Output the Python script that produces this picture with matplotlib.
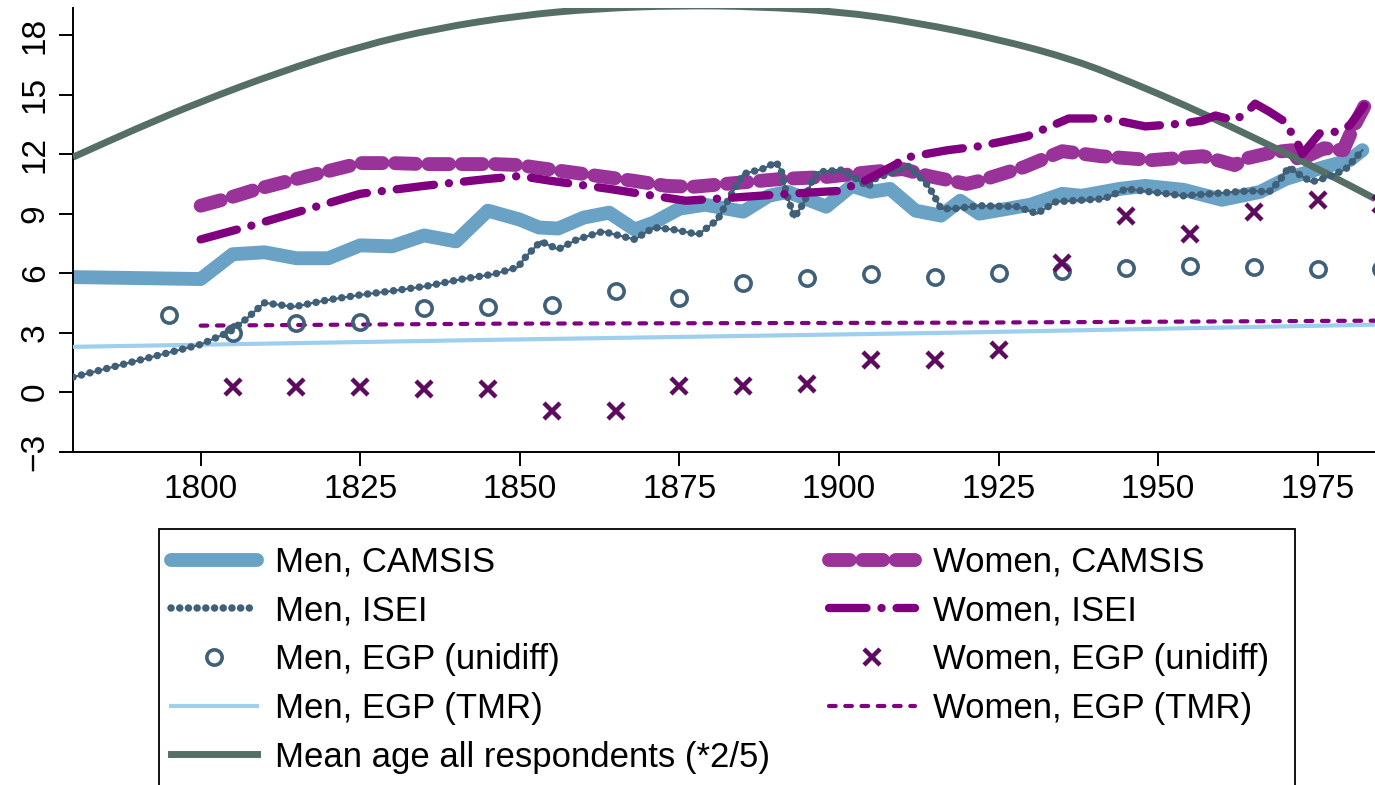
import matplotlib
matplotlib.use("Agg")
import matplotlib.pyplot as plt
from matplotlib.patches import Rectangle, PathPatch
from matplotlib.path import Path

plt.rcParams['font.family'] = ['Liberation Sans', 'DejaVu Sans']

# birth cohort / mobility values
men_camsis_year = [1780, 1800, 1805, 1810, 1815, 1820, 1825, 1830, 1835, 1840, 1845, 1850,
                   1853, 1856, 1860, 1864, 1868, 1871, 1875, 1879, 1885, 1889, 1892, 1898,
                   1902, 1905, 1908, 1912, 1916, 1919, 1922, 1930, 1935, 1938, 1944, 1948,
                   1954, 1960, 1966, 1970, 1976, 1980, 1982]
men_camsis = [5.8, 5.7, 6.95, 7.05, 6.75, 6.75, 7.4, 7.35, 7.9, 7.6, 9.15, 8.7,
              8.3, 8.25, 8.8, 9.05, 8.2, 8.55, 9.25, 9.45, 9.1, 9.9, 10.1, 9.35,
              10.4, 10.1, 10.25, 9.15, 8.9, 9.65, 9.0, 9.45, 10.0, 9.9, 10.25, 10.4,
              10.2, 9.7, 10.1, 10.75, 11.35, 11.7, 12.2]

women_camsis_year = [1800, 1804, 1809, 1815, 1820, 1825, 1830, 1835, 1841, 1846, 1850, 1852,
                     1860, 1868, 1873, 1877, 1884, 1891, 1898, 1905, 1910, 1914, 1920, 1922,
                     1929, 1935, 1941, 1949, 1957, 1962, 1964, 1968, 1971, 1972, 1976, 1979,
                     1980.5, 1982.3]
women_camsis = [9.4, 9.75, 10.25, 10.75, 11.15, 11.55, 11.55, 11.5, 11.5, 11.5, 11.45, 11.35,
                11.0, 10.65, 10.4, 10.35, 10.55, 10.75, 10.85, 11.1, 11.25, 10.9, 10.5, 10.65,
                11.35, 12.15, 11.9, 11.7, 11.9, 11.45, 11.8, 12.1, 12.2, 11.7, 12.3, 12.2,
                13.3, 14.4]

men_isei_year = [1780, 1800, 1804.6, 1807, 1810, 1814.6, 1820, 1825, 1830, 1835.5, 1841, 1846,
                 1849.7, 1851, 1853.3, 1856, 1859, 1863, 1868, 1871, 1874, 1878, 1881, 1883,
                 1885, 1888, 1890.2, 1891, 1891.8, 1893, 1894.6, 1895.7, 1896.8, 1900.4, 1903,
                 1904.6, 1905.6, 1911, 1914, 1915, 1916, 1918, 1922, 1928, 1931, 1934, 1941.5,
                 1945, 1948.8, 1954, 1964.3, 1967.4, 1969, 1970.5, 1972, 1974, 1976.7, 1979.4,
                 1982]
men_isei = [0.75, 2.4, 3.05, 3.65, 4.5, 4.3, 4.65, 4.9, 5.1, 5.35, 5.7, 5.95,
            6.3, 6.85, 7.6, 7.2, 7.7, 8.1, 7.7, 8.3, 8.2, 7.95, 8.7, 9.9,
            11.0, 11.25, 11.6, 11.1, 10.0, 8.8, 9.6, 10.6, 11.1, 11.2, 10.7,
            10.35, 10.75, 11.4, 10.4, 9.85, 9.25, 9.25, 9.4, 9.35, 9.0, 9.6, 9.75,
            10.25, 10.1, 9.9, 10.15, 10.1, 10.65, 11.35, 11.0, 10.6, 10.85, 11.25,
            12.2]

women_isei_year = [1800, 1808, 1817, 1825, 1835, 1845, 1850, 1855, 1864, 1873, 1876, 1883,
                   1892, 1900, 1902, 1904, 1909, 1910, 1917, 1922, 1929.5, 1936, 1942, 1948,
                   1954, 1957, 1959, 1962, 1964, 1965.2, 1967.4, 1970.3, 1971, 1972, 1972.6,
                   1975.3, 1978.4, 1980, 1982.3]
women_isei = [7.7, 8.4, 9.25, 10.0, 10.4, 10.75, 10.9, 10.65, 10.25, 9.8, 9.65, 9.8,
              10.0, 10.15, 10.4, 10.65, 11.5, 11.8, 12.2, 12.4, 12.9, 13.8, 13.8, 13.4,
              13.55, 13.7, 13.95, 13.7, 14.15, 14.55, 14.15, 13.55, 12.95, 12.45, 12.0,
              13.05, 13.15, 13.45, 14.45]

men_unidiff_year = [1795, 1805, 1815, 1825, 1835, 1845, 1855, 1865, 1875, 1885,
                    1895, 1905, 1915, 1925, 1935, 1945, 1955, 1965, 1975, 1985]
men_unidiff = [3.9, 3.0, 3.5, 3.55, 4.25, 4.3, 4.4, 5.1, 4.75, 5.5,
               5.75, 5.95, 5.8, 6.0, 6.1, 6.25, 6.35, 6.3, 6.2, 6.2]

women_unidiff_year = [1805, 1815, 1825, 1835, 1845, 1855, 1865, 1875, 1885, 1895,
                      1905, 1915, 1925, 1935, 1945, 1955, 1965, 1975, 1985]
women_unidiff = [0.25, 0.25, 0.25, 0.15, 0.15, -0.95, -0.95, 0.3, 0.3, 0.4,
                 1.6, 1.6, 2.1, 6.5, 8.9, 7.95, 9.1, 9.7, 9.5]

men_tmr_year = [1780, 1847, 1919, 1984]
men_tmr = [2.28, 2.64, 3.0, 3.4]
women_tmr_year = [1800, 1847, 1919, 1984]
women_tmr = [3.35, 3.45, 3.5, 3.6]

age_year = [1780, 1790, 1800, 1812, 1825, 1837, 1850, 1862, 1875, 1887,
            1900, 1912, 1925, 1937, 1946, 1954, 1962, 1970, 1976, 1984]
mean_age = [11.85, 13.3, 14.65, 16.1, 17.45, 18.35, 19.0, 19.35, 19.5, 19.45,
            19.2, 18.65, 17.8, 16.75, 15.6, 14.5, 13.3, 12.05, 11.1, 9.75]

W, H = 1375, 785
fig = plt.figure(figsize=(W / 100, H / 100), dpi=100)
# plot region continues past the right edge of the picture (cropped like the original)
ax = fig.add_axes([73 / W, (H - 451.5) / H, 1340.4 / W, 444 / H])

ax.plot(men_camsis_year, men_camsis, color='#6aa2c6', lw=10,
        solid_capstyle='round', solid_joinstyle='round', label='Men, CAMSIS', zorder=2)
ax.plot(women_camsis_year, women_camsis, color='#993399', lw=10,
        linestyle=(0, (1.5, 0.9)), dash_capstyle='round', dash_joinstyle='round',
        label='Women, CAMSIS', zorder=2)

# mean age: drawn as a smooth curve through the read points
pts = list(zip(age_year, mean_age))
verts = [pts[0], ((pts[0][0] + pts[1][0]) / 2, (pts[0][1] + pts[1][1]) / 2)]
codes = [Path.MOVETO, Path.LINETO]
for i in range(1, len(pts) - 1):
    nxt = ((pts[i][0] + pts[i + 1][0]) / 2, (pts[i][1] + pts[i + 1][1]) / 2)
    verts += [pts[i], nxt]
    codes += [Path.CURVE3, Path.CURVE3]
verts.append(pts[-1])
codes.append(Path.LINETO)
ax.add_patch(PathPatch(Path(verts, codes), fill=False, edgecolor='#566f66', lw=5,
                       capstyle='butt', zorder=3))
ax.plot([], [], color='#566f66', lw=5, label='Mean age all respondents (*2/5)')

ax.plot(men_isei_year, men_isei, color='#3f6078', lw=1.6, zorder=4)
ax.plot(men_isei_year, men_isei, color='#3f6078', lw=5.4,
        linestyle=(0, (0.01, 1.15)), dash_capstyle='round', label='Men, ISEI', zorder=4)
ax.plot(women_isei_year, women_isei, color='#800080', lw=6,
        linestyle=(0, (4.5, 1.8, 0.01, 1.8)), dash_capstyle='round',
        label='Women, ISEI', zorder=4)
ax.plot(men_unidiff_year, men_unidiff, linestyle='none', marker='o', ms=11,
        mfc='none', mec='#3f6078', mew=2.6, label='Men, EGP (unidiff)', zorder=5)
ax.plot(women_unidiff_year, women_unidiff, linestyle='none', marker='x', ms=11,
        mec='#5e0a5e', mew=3.2, label='Women, EGP (unidiff)', zorder=5)
ax.plot(men_tmr_year, men_tmr, color='#9dd0ee', lw=3, label='Men, EGP (TMR)', zorder=3)
ax.plot(women_tmr_year, women_tmr, color='#800080', lw=3,
        linestyle=(0, (1.6, 2.3)), dash_capstyle='round', label='Women, EGP (TMR)', zorder=3)

ax.set_xlim(1780, 1990)
ax.set_ylim(-3, 19.4)
ax.set_xticks([1800, 1825, 1850, 1875, 1900, 1925, 1950, 1975])
ax.set_yticks([-3, 0, 3, 6, 9, 12, 15, 18])
for s in ['top', 'right']:
    ax.spines[s].set_visible(False)
for s in ['left', 'bottom']:
    ax.spines[s].set_linewidth(1.4)
ax.tick_params(axis='both', labelsize=24, width=1.4, length=10, pad=6)
ax.tick_params(axis='y', labelrotation=90)
for lab in ax.get_yticklabels():
    lab.set_va('center')

handles, labels = ax.get_legend_handles_labels()
order = ['Men, CAMSIS', 'Men, ISEI', 'Men, EGP (unidiff)', 'Men, EGP (TMR)',
         'Mean age all respondents (*2/5)',
         'Women, CAMSIS', 'Women, ISEI', 'Women, EGP (unidiff)', 'Women, EGP (TMR)']
hmap = dict(zip(labels, handles))
fig.legend([hmap[k] for k in order], order, ncol=2, loc='upper left',
           bbox_to_anchor=(171 / W, (H - 546) / H), frameon=False, fontsize=25,
           borderpad=0, borderaxespad=0, handlelength=2.48, handletextpad=0.52,
           columnspacing=1.68, labelspacing=0.45, numpoints=1)
fig.patches.append(Rectangle((159 / W, -0.2), (1295 - 159) / W, (H - 529) / H + 0.2,
                             transform=fig.transFigure, fill=False, lw=1.3,
                             edgecolor='black'))

fig.savefig('out.png', dpi=100)
